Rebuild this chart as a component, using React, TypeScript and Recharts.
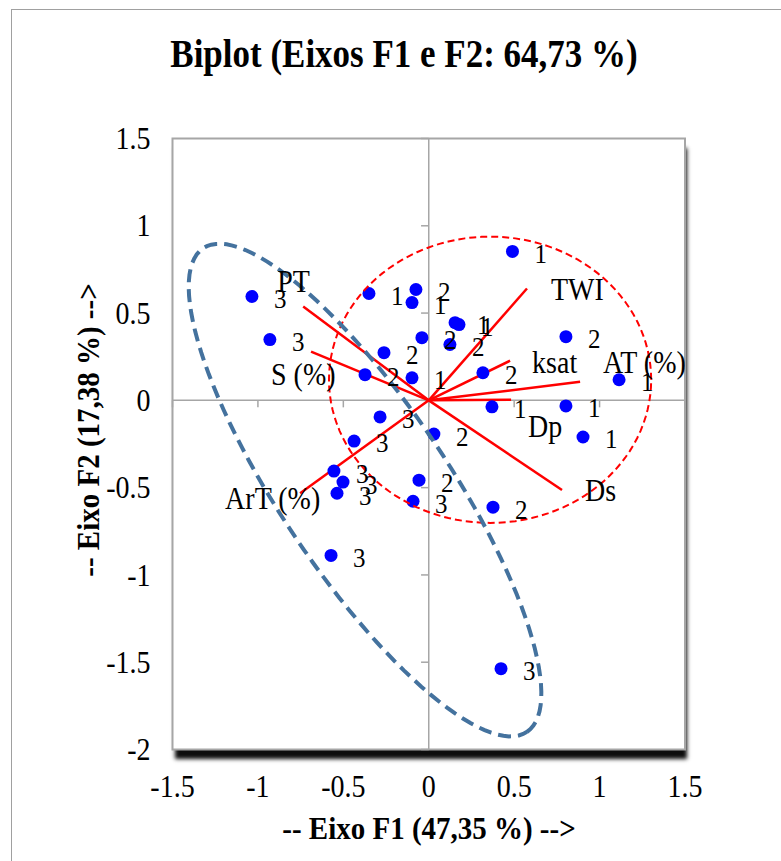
import {
  ScatterChart,
  Scatter,
  XAxis,
  YAxis,
  ReferenceLine,
  ReferenceArea,
} from "recharts";

const FONT = "'Times New Roman', 'Liberation Serif', serif";
const SY = 1.12; // o gráfico original está um pouco esticado na vertical

// observações (F1, F2) e grupo
const OBS_X = [
  0.49, -1.035, -0.35, -0.075, -0.098, -0.93, 0.154, 0.177, -0.04, 0.124,
  -0.262, 0.803, -0.373, -0.098, 0.317, 1.114, 0.37, 0.803, 0.903, -0.285,
  0.03, -0.437, -0.555, -0.502, -0.537, -0.057, -0.092, 0.376, -0.572, 0.423,
];
const OBS_Y = [
  0.853, 0.595, 0.612, 0.635, 0.56, 0.348, 0.445, 0.434, 0.359, 0.32, 0.273,
  0.365, 0.147, 0.129, 0.158, 0.118, -0.037, -0.032, -0.21, -0.095, -0.193,
  -0.233, -0.405, -0.468, -0.532, -0.457, -0.578, -0.612, -0.888, -1.537,
];
const OBS_GROUP = [
  "1", "3", "1", "2", "1", "3", "1", "1", "2", "2", "2", "2", "2", "1", "2",
  "1", "1", "1", "1", "3", "2", "3", "3", "3", "3", "2", "3", "2", "3", "3",
];

// variáveis (vetores)
const VAR_NAMES = ["TWI", "ksat", "AT (%)", "Dp", "Ds", "PT", "S (%)", "ArT (%)"];
const VAR_X = [0.575, 0.476, 0.886, 0.482, 0.78, -0.735, -0.689, -0.753];
const VAR_Y = [0.641, 0.227, 0.106, 0.003, -0.514, 0.537, 0.279, -0.532];

const X_TICKS = [-1.5, -1, -0.5, 0, 0.5, 1, 1.5];
const Y_TICKS = [-2, -1.5, -1, -0.5, 0, 0.5, 1, 1.5];

// elipses: centro, semi-eixo A, semi-eixo B (unidades dos eixos)
const RED_CENTER = [0.359, 0.118];
const RED_A = [0.943, 0];
const RED_B = [0, 0.82];
const BLUE_CENTER = [-0.373, -0.514];
const BLUE_A = [0.948, -1.385];
const BLUE_B = [0.408, 0.27];

// deslocamento dos rótulos das variáveis (px)
const VAR_LABEL_OFFSET: Record<string, [number, number]> = {
  TWI: [24, 1],
  ksat: [22, 2],
  "AT (%)": [23, -19],
  Dp: [17, 27],
  Ds: [23, 1],
  PT: [-26, -25],
  "S (%)": [-40, 23],
  "ArT (%)": [-75, 5],
};

const W = 781;
const H = 861;
const PLOT = { left: 172.5, top: 138.5, right: 685, bottom: 749.5 };
const Y_AXIS_W = 60;
const X_AXIS_H = 60;

function ellipsePoints(c: number[], a: number[], b: number[]) {
  const pts = [];
  for (let k = 0; k <= 120; k++) {
    const t = (2 * Math.PI * k) / 120;
    pts.push({
      x: c[0] + a[0] * Math.cos(t) + b[0] * Math.sin(t),
      y: c[1] + a[1] * Math.cos(t) + b[1] * Math.sin(t),
    });
  }
  return pts;
}

const obsData = OBS_X.map((x, i) => ({ x, y: OBS_Y[i], g: OBS_GROUP[i] }));
const varData = VAR_NAMES.map((name, i) => ({ name, x: VAR_X[i], y: VAR_Y[i] }));
const redEllipse = ellipsePoints(RED_CENTER, RED_A, RED_B);
const blueEllipse = ellipsePoints(BLUE_CENTER, BLUE_A, BLUE_B);

// texto com baseline em (x, y), esticado na vertical
const SText = ({ x, y, size, anchor = "start", bold = false, rotate = 0, children }: any) => (
  <text
    transform={`translate(${x} ${y}) rotate(${rotate}) scale(1 ${SY})`}
    x={0}
    y={0}
    fontSize={size}
    fontFamily={FONT}
    fontWeight={bold ? "bold" : "normal"}
    textAnchor={anchor}
    fill="#000"
  >
    {children}
  </text>
);

const Dot = (props: any) => (
  <circle cx={props.cx} cy={props.cy} r={6.5} fill="#0000ff" />
);

const ObsLabel = (props: any) => (
  <SText x={props.cx + 22} y={props.cy + 2 + 0.338 * 25 * SY} size={25}>
    {props.payload.g}
  </SText>
);

const VarLabel = (props: any) => {
  const [dx, dy] = VAR_LABEL_OFFSET[props.payload.name] || [0, 0];
  return (
    <SText x={props.cx + dx} y={props.cy + dy + 0.331 * 28 * SY} size={28}>
      {props.payload.name}
    </SText>
  );
};

const XTick = (props: any) => (
  <SText x={props.x} y={props.y + 21} size={28} anchor="middle">
    {props.payload.value}
  </SText>
);

const YTick = (props: any) => (
  <SText x={props.x} y={props.y + 10.6} size={28} anchor="end">
    {props.payload.value}
  </SText>
);

const Empty = () => <g />;

export default function App() {
  return (
    <div
      style={{
        position: "absolute",
        left: 0,
        top: 0,
        width: W,
        height: H,
        overflow: "hidden",
        background: "#fff",
      }}
    >
      <div
        style={{
          position: "absolute",
          left: 11,
          top: 9,
          width: 900,
          height: 1000,
          border: "1.5px solid #a0a0a0",
        }}
      />
      <div
        style={{
          position: "absolute",
          left: PLOT.left,
          top: PLOT.top,
          width: PLOT.right - PLOT.left,
          height: PLOT.bottom - PLOT.top,
          background: "#fff",
          boxShadow: "2px 9px 4px rgba(0,0,0,0.95)",
        }}
      />
      <div style={{ position: "absolute", left: 0, top: 0 }}>
        <ScatterChart
          width={W}
          height={H}
          margin={{
            left: PLOT.left - Y_AXIS_W,
            top: PLOT.top,
            right: W - PLOT.right,
            bottom: H - PLOT.bottom - X_AXIS_H,
          }}
        >
          <XAxis
            type="number"
            dataKey="x"
            domain={[-1.5, 1.5]}
            ticks={X_TICKS}
            height={X_AXIS_H}
            axisLine={false}
            tickLine={false}
            tickSize={6}
            tickMargin={20}
            tick={<XTick />}
            allowDataOverflow
          />
          <YAxis
            type="number"
            dataKey="y"
            domain={[-2, 1.5]}
            ticks={Y_TICKS}
            width={Y_AXIS_W}
            axisLine={false}
            tickLine={false}
            tickSize={6}
            tickMargin={16}
            tick={<YTick />}
            allowDataOverflow
          />
          <ReferenceArea
            x1={-1.5}
            x2={1.5}
            y1={-2}
            y2={1.5}
            fill="none"
            stroke="#a6a6a6"
            strokeWidth={2}
            ifOverflow="visible"
          />
          <ReferenceLine x={0} stroke="#a6a6a6" strokeWidth={1.5} />
          <ReferenceLine y={0} stroke="#a6a6a6" strokeWidth={1.5} />
          {X_TICKS.map((t) => (
            <ReferenceLine
              key={`xt${t}`}
              segment={[
                { x: t, y: 0 },
                { x: t, y: -0.04 },
              ]}
              stroke="#a6a6a6"
              strokeWidth={1.5}
            />
          ))}
          {Y_TICKS.map((t) => (
            <ReferenceLine
              key={`yt${t}`}
              segment={[
                { x: -0.045, y: t },
                { x: 0, y: t },
              ]}
              stroke="#a6a6a6"
              strokeWidth={1.5}
            />
          ))}
          {varData.map((v) => (
            <ReferenceLine
              key={v.name}
              segment={[
                { x: 0, y: 0 },
                { x: v.x, y: v.y },
              ]}
              stroke="#ff0000"
              strokeWidth={2.5}
            />
          ))}
          <Scatter data={obsData} shape={Dot} isAnimationActive={false} />
          <Scatter
            data={redEllipse}
            shape={Empty}
            line={{ stroke: "#ff0000", strokeWidth: 2, strokeDasharray: "7 4" }}
            isAnimationActive={false}
          />
          <Scatter
            data={blueEllipse}
            shape={Empty}
            line={{ stroke: "#44729e", strokeWidth: 4, strokeDasharray: "13 7" }}
            isAnimationActive={false}
          />
          <Scatter data={obsData} shape={ObsLabel} isAnimationActive={false} />
          <Scatter data={varData} shape={VarLabel} isAnimationActive={false} />
        </ScatterChart>
      </div>
      <svg
        width={W}
        height={H}
        style={{ position: "absolute", left: 0, top: 0, pointerEvents: "none" }}
      >
        <SText x={404} y={67} size={35} anchor="middle" bold>
          Biplot (Eixos F1 e F2: 64,73 %)
        </SText>
        <SText x={429} y={839} size={29} anchor="middle" bold>
          -- Eixo F1 (47,35 %) --&gt;
        </SText>
        <SText x={99} y={430} size={29} anchor="middle" bold rotate={-90}>
          -- Eixo F2 (17,38 %) --&gt;
        </SText>
      </svg>
    </div>
  );
}
